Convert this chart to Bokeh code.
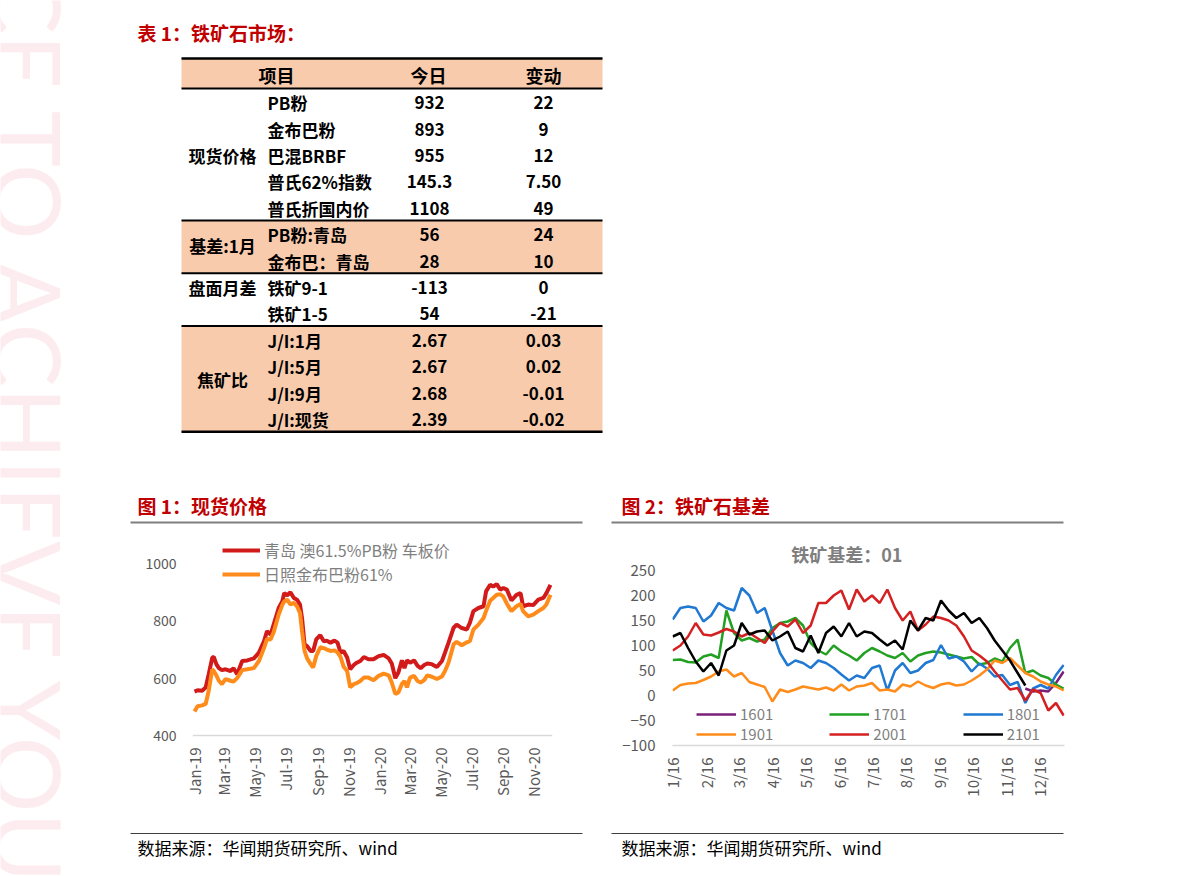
import math
import pandas as pd
from bokeh.plotting import figure
from bokeh.layouts import row, column
from bokeh.models import (Range1d, FixedTicker, DatetimeTickFormatter, CustomJSTickFormatter,
                          Legend, LegendItem, ColumnDataSource, Spacer, Span)
from bokeh.core.properties import value
from bokeh.embed import file_html
from bokeh.resources import INLINE

CJK = "Noto Sans CJK SC"
RED_T = "#c00000"
PEACH = "#f8cbad"
GRAY_T = "#595959"

# ---------------- data ----------------
table_title = "表 1：铁矿石市场："
header = ["项目", "今日", "变动"]
groups = ["现货价格", "基差:1月", "盘面月差", "焦矿比"]
group_rows = [2.0, 5.4, 7.0, 10.5]
items = ["PB粉", "金布巴粉", "巴混BRBF", "普氏62%指数", "普氏折国内价",
         "PB粉:青岛", "金布巴：青岛", "铁矿9-1", "铁矿1-5",
         "J/I:1月", "J/I:5月", "J/I:9月", "J/I:现货"]
today = ["932", "893", "955", "145.3", "1108", "56", "28", "-113", "54",
         "2.67", "2.67", "2.68", "2.39"]
change = ["22", "9", "12", "7.50", "49", "24", "10", "0", "-21",
          "0.03", "0.02", "-0.01", "-0.02"]

fig1_title = "图 1：现货价格"
fig2_title = "图 2：铁矿石基差"
source_text = "数据来源：华闻期货研究所、wind"

c1_names = ["青岛 澳61.5%PB粉 车板价", "日照金布巴粉61%"]
c1_dates = ["2019-01-02", "2019-01-08", "2019-01-17", "2019-01-24", "2019-01-30", "2019-02-06", "2019-02-09", "2019-02-14", "2019-02-19", "2019-02-25",
            "2019-03-04", "2019-03-14", "2019-03-20", "2019-03-27", "2019-04-06", "2019-04-16", "2019-04-29", "2019-05-09", "2019-05-19", "2019-05-25",
            "2019-06-01", "2019-06-07", "2019-06-17", "2019-06-24", "2019-06-28", "2019-07-04", "2019-07-10", "2019-07-17", "2019-07-23", "2019-07-29",
            "2019-08-02", "2019-08-07", "2019-08-12", "2019-08-19", "2019-08-24", "2019-08-30", "2019-09-07", "2019-09-14", "2019-09-20", "2019-09-27",
            "2019-10-05", "2019-10-11", "2019-10-17", "2019-10-23", "2019-10-30", "2019-11-05", "2019-11-12", "2019-11-18", "2019-11-25", "2019-12-02",
            "2019-12-11", "2019-12-21", "2019-12-31", "2020-01-10", "2020-01-20", "2020-01-26", "2020-02-02", "2020-02-08", "2020-02-15", "2020-02-20",
            "2020-02-25", "2020-03-02", "2020-03-10", "2020-03-17", "2020-03-23", "2020-03-30", "2020-04-05", "2020-04-14", "2020-04-24", "2020-05-04",
            "2020-05-10", "2020-05-17", "2020-05-27", "2020-06-02", "2020-06-12", "2020-06-22", "2020-06-28", "2020-07-05", "2020-07-15", "2020-07-25",
            "2020-07-30", "2020-08-07", "2020-08-13", "2020-08-20", "2020-08-27", "2020-09-02", "2020-09-09", "2020-09-18", "2020-09-28", "2020-10-06",
            "2020-10-11", "2020-10-21", "2020-10-31", "2020-11-10", "2020-11-20", "2020-11-26", "2020-12-04"]
c1_pb = [553, 558, 556, 568, 614, 672, 674, 649, 635, 628,
         631, 625, 635, 614, 660, 662, 669, 689, 729, 764,
         752, 787, 845, 868, 897, 889, 900, 880, 874, 857,
         810, 718, 712, 695, 695, 735, 750, 729, 731, 724,
         731, 724, 689, 695, 672, 631, 646, 654, 660, 674,
         666, 666, 677, 681, 669, 651, 600, 620, 662, 635,
         662, 654, 662, 643, 635, 646, 651, 649, 639, 660,
         689, 724, 776, 787, 775, 770, 793, 834, 845, 851,
         903, 926, 920, 928, 909, 915, 909, 871, 891, 897,
         851, 857, 855, 874, 880, 897, 926]
c1_jbb = [484, 502, 505, 510, 556, 631, 625, 610, 591, 579,
          597, 591, 588, 600, 628, 631, 635, 660, 705, 737,
          735, 760, 822, 855, 868, 874, 857, 863, 851, 828,
          764, 695, 669, 649, 637, 677, 708, 705, 700, 695,
          697, 690, 674, 640, 625, 568, 579, 583, 590, 602,
          602, 593, 608, 616, 610, 585, 545, 550, 580, 590,
          568, 602, 608, 590, 585, 593, 610, 605, 597, 606,
          625, 655, 718, 727, 715, 725, 729, 770, 787, 810,
          835, 870, 880, 891, 893, 885, 860, 834, 851, 859,
          834, 816, 822, 834, 845, 857, 891]
c1_ticks = ["2019-01-01", "2019-03-01", "2019-05-01", "2019-07-01", "2019-09-01", "2019-11-01",
            "2020-01-01", "2020-03-01", "2020-05-01", "2020-07-01", "2020-09-01", "2020-11-01"]
c1_yticks = [400, 600, 800, 1000]

c2_title = "铁矿基差：01"
c2_dates = ["2016-01-01", "2016-01-08", "2016-01-15", "2016-01-22", "2016-01-29", "2016-02-05", "2016-02-12", "2016-02-19", "2016-02-26",
            "2016-03-04", "2016-03-11", "2016-03-18", "2016-03-25", "2016-04-01", "2016-04-08", "2016-04-15", "2016-04-22", "2016-04-29",
            "2016-05-06", "2016-05-13", "2016-05-20", "2016-05-27", "2016-06-03", "2016-06-10", "2016-06-17", "2016-06-24",
            "2016-07-01", "2016-07-08", "2016-07-15", "2016-07-22", "2016-07-29", "2016-08-05", "2016-08-12", "2016-08-19", "2016-08-26",
            "2016-09-02", "2016-09-09", "2016-09-16", "2016-09-23", "2016-09-30", "2016-10-07", "2016-10-14", "2016-10-21", "2016-10-28",
            "2016-11-04", "2016-11-11", "2016-11-18", "2016-11-25", "2016-12-02", "2016-12-09", "2016-12-16", "2016-12-23"]
NA = float("nan")
b1601 = [NA] * 46 + [14, 8, 10, 8, 25, 48]
b1701 = [71, 72, 67, 66, 78, 82, 75, 170, 125, 110,
         115, 108, 112, 135, 145, 148, 155, 140, 105, 90,
         82, 100, 88, 80, 70, 85, 95, 88, 80, 75,
         85, 68, 80, 85, 88, 86, 82, 78, 74, 77,
         62, 65, 74, 68, 95, 112, 45, 50, 40, 35,
         22, 14]
b1801 = [152, 175, 178, 175, 148, 160, 185, 175, 170, 215,
         200, 165, 175, 130, 85, 60, 70, 65, 55, 70,
         65, 55, 42, 30, 40, 35, 55, 60, 10, 50,
         65, 45, 50, 65, 71, 101, 74, 78, 68, 48,
         64, 54, 38, 41, 21, 27, -15, 14, 21, 14,
         41, 61]
b1901 = [10, 21, 24, 25, 31, 38, 48, 52, 38, 45,
         27, 22, 17, -12, 12, 7, 12, 18, 15, 12,
         16, 10, 22, 10, 18, 20, 25, 10, 12, 8,
         22, 18, 28, 20, 15, 22, 25, 20, 22, 30,
         40, 52, 70, 65, 75, 60, 45, 38, 28, 22,
         18, 10]
b2001 = [90, 100, 118, 145, 122, 120, 126, 133, 128, 118,
         125, 115, 105, 128, 145, 138, 152, 125, 140, 185,
         185, 200, 210, 172, 212, 188, 200, 185, 212, 175,
         150, 168, 130, 142, 158, 155, 150, 140, 118, 90,
         80, 68, 48, 30, 12, 15, -10, 12, 5, -30,
         -15, -40]
b2101 = [118, 125, 95, 68, 48, 65, 40, 90, 100, 145,
         122, 128, 130, 110, 118, 128, 95, 88, 120, 85,
         125, 138, 118, 145, 118, 128, 125, 112, 100, 110,
         92, 150, 130, 155, 150, 190, 170, 155, 165, 145,
         155, 135, 110, 90, 70, 45, 20, NA, NA, NA,
         NA, NA]
c2_series = ["1601", "1701", "1801", "1901", "2001", "2101"]
c2_colors = ["#7a1f7a", "#22a022", "#1f78d1", "#ff8c1a", "#d42020", "#000000"]
c2_ticks = ["2016-01-01", "2016-02-01", "2016-03-01", "2016-04-01", "2016-05-01", "2016-06-01",
            "2016-07-01", "2016-08-01", "2016-09-01", "2016-10-01", "2016-11-01", "2016-12-01"]
c2_yticks = [-100, -50, 0, 50, 100, 150, 200, 250]


def ms(s):
    return pd.Timestamp(s).timestamp() * 1000.0


def blank(width, height, xr, yr):
    p = figure(width=width, height=height, x_range=Range1d(*xr), y_range=Range1d(*yr),
               output_backend="svg", toolbar_location=None, min_border=0,
               x_axis_location=None, y_axis_location=None)
    p.grid.visible = False
    p.outline_line_color = None
    return p


# ---------------- watermark strip ----------------
wm = blank(125, 876, (0, 125), (876, 0))
wm.text(x=[28], y=[-196], text=["SPACE TO ACHIEVE YOUR"], angle=-math.pi / 2,
        text_font=value("Lato"), text_font_size="95px", text_color="#fdecef",
        text_align="left", text_baseline="middle")

# ---------------- top: table + figure headers ----------------
top = blank(1066, 530, (125, 1191), (530, 0))
top.text(x=[137], y=[32], text=[table_title], text_font=value(CJK), text_font_size="19px",
         text_font_style="bold", text_color=RED_T, text_baseline="middle")

TL, TR = 181, 602
body_top, row_h = 88.0, 26.4
bounds = [body_top + row_h * k for k in (0, 5, 7, 9, 13)]
top.quad(left=[TL] * 3, right=[TR] * 3, top=[58, bounds[1], bounds[3]],
         bottom=[bounds[0], bounds[2], bounds[4]], fill_color=PEACH, line_color=None)
top.segment(x0=[TL] * 6, x1=[TR] * 6, y0=[58] + bounds, y1=[58] + bounds,
            line_color="black", line_width=[2.5, 2, 2, 2, 2, 2.5])
top.text(x=[276, 428, 543], y=[74] * 3, text=header, text_font=value(CJK),
         text_font_size="18px", text_font_style="bold", text_color="black",
         text_align="center", text_baseline="middle")
ry = [body_top + row_h * (i + 0.5) + 1 for i in range(len(items))]
top.text(x=[267] * len(items), y=ry, text=items, text_font=value(CJK), text_font_size="17px",
         text_font_style="bold", text_color="black", text_align="left", text_baseline="middle")
top.text(x=[429] * len(items), y=ry, text=today, text_font=value(CJK), text_font_size="17px",
         text_font_style="bold", text_color="black", text_align="center", text_baseline="middle")
top.text(x=[543] * len(items), y=ry, text=change, text_font=value(CJK), text_font_size="17px",
         text_font_style="bold", text_color="black", text_align="center", text_baseline="middle")
gy = [body_top + row_h * (r + 0.5) + 1 for r in group_rows]
top.text(x=[222] * 4, y=gy, text=groups, text_font=value(CJK), text_font_size="17px",
         text_font_style="bold", text_color="black", text_align="center", text_baseline="middle")

top.text(x=[137, 621], y=[505, 505], text=[fig1_title, fig2_title], text_font=value(CJK),
         text_font_size="19px", text_font_style="bold", text_color=RED_T, text_baseline="middle")
top.segment(x0=[130, 611], x1=[582, 1063], y0=[522, 522], y1=[522, 522],
            line_color="#7f7f7f", line_width=2)


def style_axes(p, xfs, yfs, xstand, ystand):
    p.xgrid.visible = False
    p.ygrid.visible = False
    p.outline_line_color = None
    xa, ya = p.xaxis[0], p.yaxis[0]
    xa.axis_line_color = None
    xa.major_tick_line_color = None
    xa.minor_tick_line_color = None
    xa.major_tick_out = 0
    xa.major_tick_in = 0
    xa.major_label_orientation = math.pi / 2
    xa.major_label_standoff = xstand
    xa.major_label_text_color = GRAY_T
    xa.major_label_text_font = CJK
    xa.major_label_text_font_size = xfs
    ya.axis_line_color = None
    ya.major_tick_line_color = None
    ya.minor_tick_line_color = None
    ya.major_tick_out = 0
    ya.major_tick_in = 0
    ya.major_label_standoff = ystand
    ya.major_label_text_color = GRAY_T
    ya.major_label_text_font = CJK
    ya.major_label_text_font_size = yfs


# ---------------- chart 1 ----------------
c1 = figure(width=480, height=296, x_axis_type="datetime", output_backend="svg",
            toolbar_location=None,
            x_range=Range1d(ms("2018-12-29"), ms("2020-12-08")), y_range=Range1d(365, 1098),
            min_border_left=67, min_border_right=53, min_border_top=5, min_border_bottom=81)
style_axes(c1, "15px", "14px", 2, 16)
c1.add_layout(Span(location=c1_yticks[0], dimension="width", line_color="#d9d9d9", line_width=1.5))
c1.xaxis[0].ticker = FixedTicker(ticks=[ms(t) for t in c1_ticks])
c1.xaxis[0].formatter = DatetimeTickFormatter(days="%b-%y", months="%b-%y", years="%b-%y")
c1.yaxis[0].ticker = FixedTicker(ticks=c1_yticks)
src1 = ColumnDataSource(dict(d=pd.to_datetime(c1_dates), pb=c1_pb, jbb=c1_jbb))
r_pb = c1.line("d", "pb", source=src1, line_color="#d21a1a", line_width=4)
r_jbb = c1.line("d", "jbb", source=src1, line_color="#ff8c1a", line_width=4)
leg1 = Legend(items=[LegendItem(label=c1_names[0], renderers=[r_pb]),
                     LegendItem(label=c1_names[1], renderers=[r_jbb])],
              location=(30, 159), orientation="vertical", padding=0, margin=0, spacing=0,
              glyph_width=38, glyph_height=16, label_height=16, label_standoff=4,
              label_text_font=CJK, label_text_font_size="16px", label_text_color="#7f7f7f",
              border_line_color=None, background_fill_alpha=0)
c1.add_layout(leg1)

# ---------------- chart 2 ----------------
c2 = figure(width=480, height=296, x_axis_type="datetime", output_backend="svg",
            toolbar_location=None,
            x_range=Range1d(ms("2015-12-31 19:00"), ms("2016-12-23 19:00")), y_range=Range1d(-100, 320),
            min_border_left=67, min_border_right=21, min_border_top=5, min_border_bottom=81)
style_axes(c2, "15px", "15px", 12, 17)
c2.xaxis[0].axis_line_color = "#d9d9d9"
c2.xaxis[0].axis_line_width = 1.5
c2.xaxis[0].ticker = FixedTicker(ticks=[ms(t) for t in c2_ticks])
c2.xaxis[0].formatter = CustomJSTickFormatter(
    code="const d = new Date(tick); return (d.getUTCMonth() + 1) + '/' + String(d.getUTCFullYear()).slice(2);")
c2.yaxis[0].ticker = FixedTicker(ticks=c2_yticks)
c2.text(x=[ms("2016-06-08")], y=[284], text=[c2_title], text_font=value(CJK),
        text_font_size="18px", text_font_style="bold", text_color="#7f7f7f",
        text_align="center", text_baseline="middle")
src2 = ColumnDataSource(dict(d=pd.to_datetime(c2_dates), s1601=b1601, s1701=b1701, s1801=b1801,
                             s1901=b1901, s2001=b2001, s2101=b2101))
rs = []
for name, col in zip(c2_series, c2_colors):
    rs.append(c2.line("d", "s" + name, source=src2, line_color=col, line_width=2.5))
leg_kw = dict(orientation="horizontal", padding=0, margin=0, spacing=56, glyph_width=40,
              glyph_height=18, label_height=18, label_standoff=4, label_text_font=CJK,
              label_text_font_size="15px", label_text_color="#7f7f7f",
              border_line_color=None, background_fill_alpha=0)
leg2a = Legend(items=[LegendItem(label=c2_series[i], renderers=[rs[i]]) for i in range(3)],
               location=(24, 21), **leg_kw)
leg2b = Legend(items=[LegendItem(label=c2_series[i], renderers=[rs[i]]) for i in range(3, 6)],
               location=(24, 1), **leg_kw)
c2.add_layout(leg2a)
c2.add_layout(leg2b)

# ---------------- footer ----------------
foot = blank(1066, 50, (125, 1191), (876, 826))
foot.segment(x0=[130, 611], x1=[582, 1063], y0=[833, 833], y1=[833, 833],
             line_color="#404040", line_width=1)
foot.text(x=[137, 621], y=[847, 847], text=[source_text] * 2, text_font=value(CJK),
          text_font_size="17px", text_color="black", text_baseline="middle")

layout = row(wm, column(top, row(c1, c2, Spacer(width=106, height=296)), foot))
open("out.html", "w").write(file_html(layout, INLINE))
